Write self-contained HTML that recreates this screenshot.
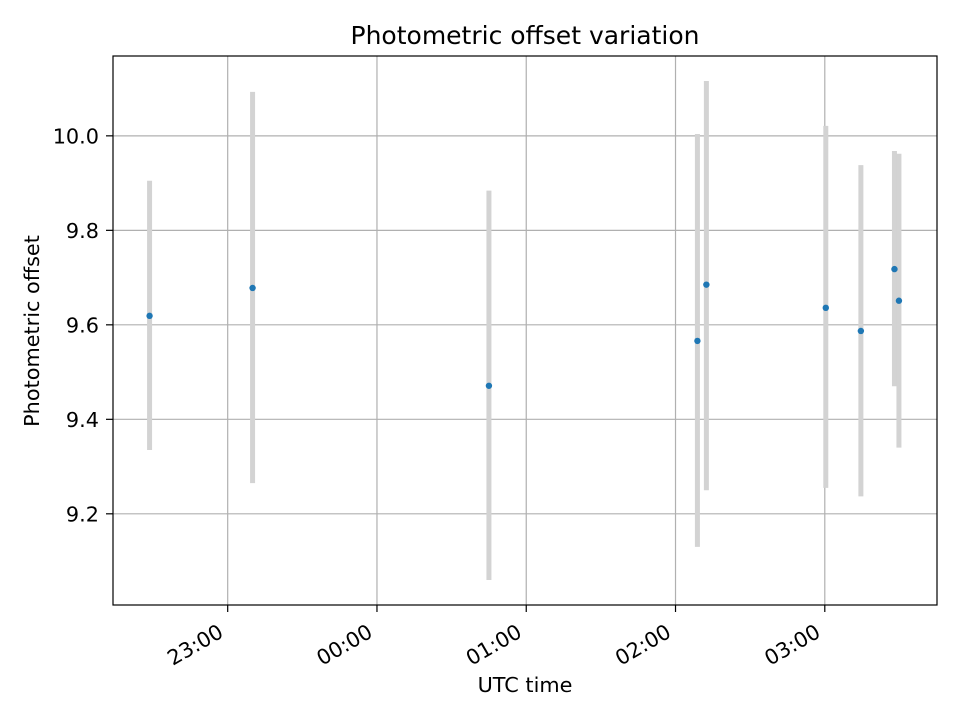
<!DOCTYPE html>
<html><head><meta charset="utf-8"><style>
body{margin:0;background:#fff}
svg{font-family:"DejaVu Sans","Liberation Sans",sans-serif}
</style></head><body>
<svg id="chart" width="960" height="720" xmlns="http://www.w3.org/2000/svg">
<rect width="960" height="720" fill="#fff"/>
<text x="525" y="44" text-anchor="middle" font-size="25">Photometric offset variation</text>
<g id="grid"></g>
<g id="bars"></g>
<g id="pts"></g>
<rect x="113" y="56" width="824" height="549" fill="none" stroke="#000" stroke-width="1.2"/>
<g id="ticks"></g>
<text x="525" y="692" text-anchor="middle" font-size="20.8">UTC time</text>
<text transform="translate(39,331) rotate(-90)" text-anchor="middle" font-size="20.8">Photometric offset</text>
</svg>
<script>
// minutes relative to 00:00 UTC
const times = [-91.4, -50, 45, 128.8, 132.4, 180.4, 194.5, 208, 209.8];
const values = [9.619, 9.678, 9.471, 9.566, 9.685, 9.636, 9.587, 9.718, 9.651];
const upper = [9.905, 10.093, 9.884, 10.004, 10.116, 10.021, 9.938, 9.968, 9.962];
const lower = [9.335, 9.265, 9.06, 9.13, 9.25, 9.255, 9.237, 9.47, 9.34];
const xTicks = [-60, 0, 60, 120, 180];
const xTickLabels = ["23:00", "00:00", "01:00", "02:00", "03:00"];
const yTicks = [9.2, 9.4, 9.6, 9.8, 10.0];
const yTickLabels = ["9.2", "9.4", "9.6", "9.8", "10.0"];

const L=113,R=937,T=56,B=605;
const xMin=-106.1,xMax=225.1,yMin=9.007,yMax=10.169;
const xs=v=>L+(v-xMin)/(xMax-xMin)*(R-L);
const ys=v=>B-(v-yMin)/(yMax-yMin)*(B-T);
const NS="http://www.w3.org/2000/svg";
function mk(tag,attrs,parent){const e=document.createElementNS(NS,tag);for(const k in attrs)e.setAttribute(k,attrs[k]);parent.appendChild(e);return e;}
const grid=document.getElementById('grid'),ticks=document.getElementById('ticks'),bars=document.getElementById('bars'),pts=document.getElementById('pts');
xTicks.forEach((t,i)=>{const x=xs(t);
 let g=mk('line',{x1:x,x2:x,y1:T,y2:B,stroke:'#b0b0b0','stroke-width':1.2},grid);
 
 let tk=mk('line',{x1:x,x2:x,y1:B,y2:B+7,stroke:'#000','stroke-width':1.2},ticks);
 
 const ax=x-3,ay=B+31;
 let lb=mk('text',{x:ax,y:ay,'text-anchor':'end','font-size':20.8,transform:`rotate(-30 ${ax} ${ay})`},ticks);
 lb.textContent=xTickLabels[i];
 
});
yTicks.forEach((t,i)=>{const y=ys(t);
 let g=mk('line',{x1:L,x2:R,y1:y,y2:y,stroke:'#b0b0b0','stroke-width':1.2},grid);
 
 let tk=mk('line',{x1:L-7,x2:L,y1:y,y2:y,stroke:'#000','stroke-width':1.2},ticks);
 
 let lb=mk('text',{x:L-14,y:y+7.6,'text-anchor':'end','font-size':20.8},ticks);
 lb.textContent=yTickLabels[i];
 
});
times.forEach((t,i)=>{const x=xs(t);
 let b=mk('line',{x1:x,x2:x,y1:ys(upper[i]),y2:ys(lower[i]),stroke:'#d3d3d3','stroke-width':5},bars);
 
 let c=mk('circle',{cx:x,cy:ys(values[i]),r:3.2,fill:'#1f77b4'},pts);
 
});
</script>
</body></html>
